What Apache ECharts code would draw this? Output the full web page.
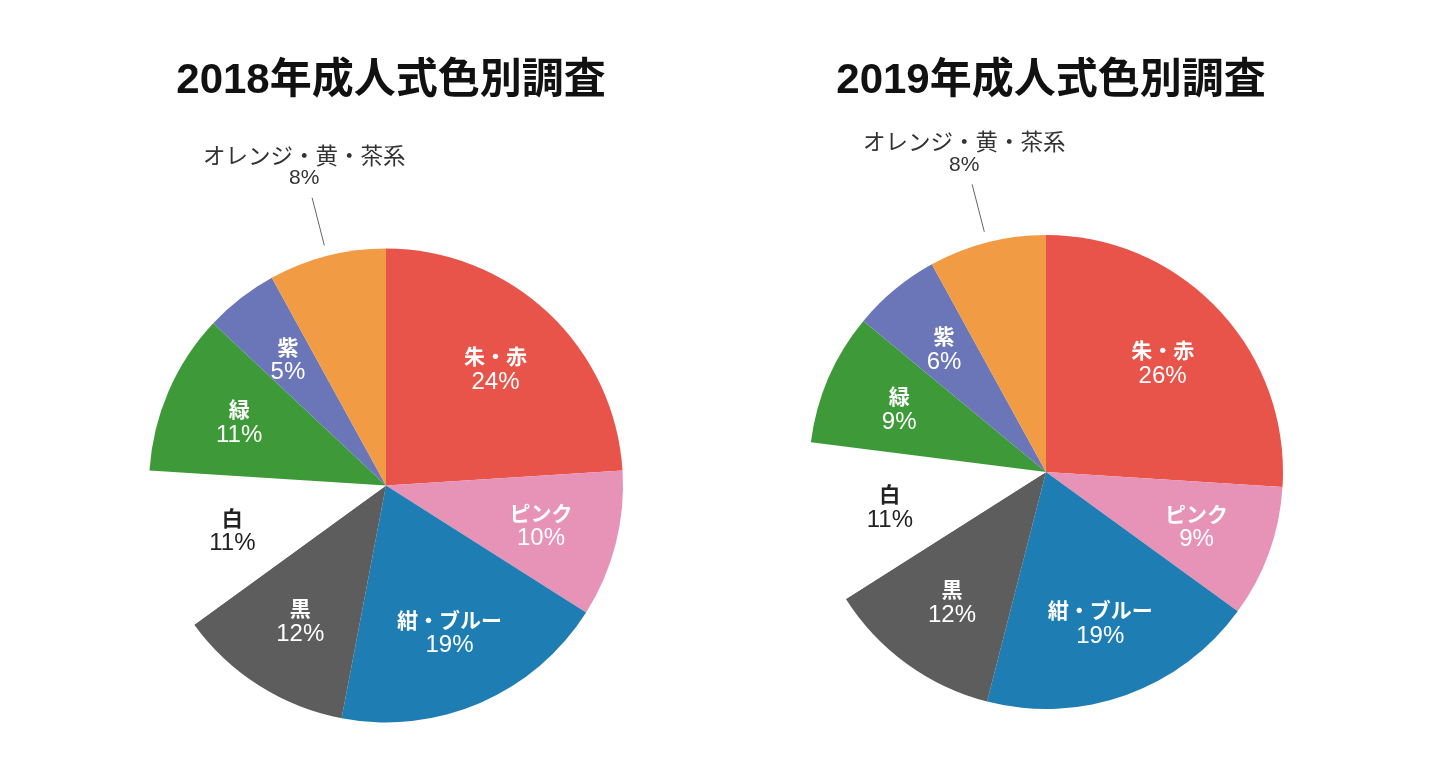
<!DOCTYPE html>
<html>
<head>
<meta charset="utf-8">
<script src="https://cdn.jsdelivr.net/npm/echarts@6/dist/echarts.min.js"></script>
<style>
html,body{margin:0;padding:0;background:#fff;}
#chart{width:1440px;height:778px;}
</style>
</head>
<body>
<div id="chart"></div>
<script>
const titles = ['2018年成人式色別調査', '2019年成人式色別調査'];
const categories = ['朱・赤', 'ピンク', '紺・ブルー', '黒', '白', '緑', '紫', 'オレンジ・黄・茶系'];
const values2018 = [24, 10, 19, 12, 11, 11, 5, 8];
const values2019 = [26, 9, 19, 12, 11, 9, 6, 8];
const colors = ['#E8534A', '#E793B7', '#1E7DB3', '#5D5D5D', '#FFFFFF', '#3E9A38', '#6A76B7', '#F29B45'];

const CJK = '"Noto Sans CJK JP", "Noto Sans", sans-serif';
const LATIN = '"Liberation Sans", "Noto Sans CJK JP", sans-serif';
const R = 237;
const centers = [[386, 485.5], [1046, 472]];

function pieData(values) {
  return categories.map((name, i) => ({ name: name, value: values[i], itemStyle: { color: colors[i] } }));
}

function labelData(values) {
  return categories.map((name, i) => {
    const item = { name: name, value: values[i] };
    if (i === 4) {
      item.label = { color: '#222' };
    }
    if (i === 7) {
      item.label = {
        position: 'outside', color: '#333',
        rich: {
          n: { fontFamily: CJK, fontSize: 22.5, fontWeight: 'normal', lineHeight: 25, color: '#333' },
          p: { fontFamily: LATIN, fontSize: 21, lineHeight: 21, color: '#333' }
        }
      };
      item.labelLine = { show: true, length: 55, length2: 0, lineStyle: { color: '#666', width: 1 } };
    }
    return item;
  });
}

function labelLayout(params) {
  if (params.dataIndex !== 7 || !params.labelLinePoints) return {};
  const p0 = params.labelLinePoints[0];
  const p1 = params.labelLinePoints[1];
  const dx = p1[0] - p0[0], dy = p1[1] - p0[1];
  const len = Math.sqrt(dx * dx + dy * dy) || 1;
  const ux = dx / len, uy = dy / len;
  const a = [p0[0] + ux * 11, p0[1] + uy * 11];
  const b = [p0[0] + ux * 60, p0[1] + uy * 60];
  return {
    x: b[0] - 8,
    y: b[1] - 9,
    align: 'center',
    verticalAlign: 'bottom',
    labelLinePoints: [a, b, b]
  };
}

const series = [];
[values2018, values2019].forEach((vals, k) => {
  series.push({
    type: 'pie',
    center: centers[k],
    radius: R,
    startAngle: 90,
    clockwise: true,
    silent: true,
    label: { show: false },
    labelLine: { show: false },
    itemStyle: { borderWidth: 0 },
    data: pieData(vals)
  });
  series.push({
    type: 'pie',
    center: centers[k],
    radius: [77, R],
    startAngle: 90,
    clockwise: true,
    silent: true,
    itemStyle: { color: 'rgba(0,0,0,0)', borderWidth: 0 },
    label: {
      show: true,
      position: 'inside',
      formatter: '{n|{b}}\n{p|{c}%}',
      color: '#fff',
      align: 'center',
      rich: {
        n: { fontFamily: CJK, fontSize: 21, fontWeight: 'bold', lineHeight: 27 },
        p: { fontFamily: LATIN, fontSize: 24, fontWeight: 'normal', lineHeight: 25 }
      }
    },
    labelLine: { show: false },
    labelLayout: labelLayout,
    data: labelData(vals)
  });
});

const chart = echarts.init(document.getElementById('chart'));
chart.setOption({
  animation: false,
  backgroundColor: '#fff',
  title: titles.map((t, k) => ({
    text: t,
    left: centers[k][0],
    top: 55,
    textAlign: 'center',
    textStyle: { fontFamily: LATIN, fontSize: 42, fontWeight: 'bold', color: '#111' }
  })),
  series: series
});
</script>
</body>
</html>
